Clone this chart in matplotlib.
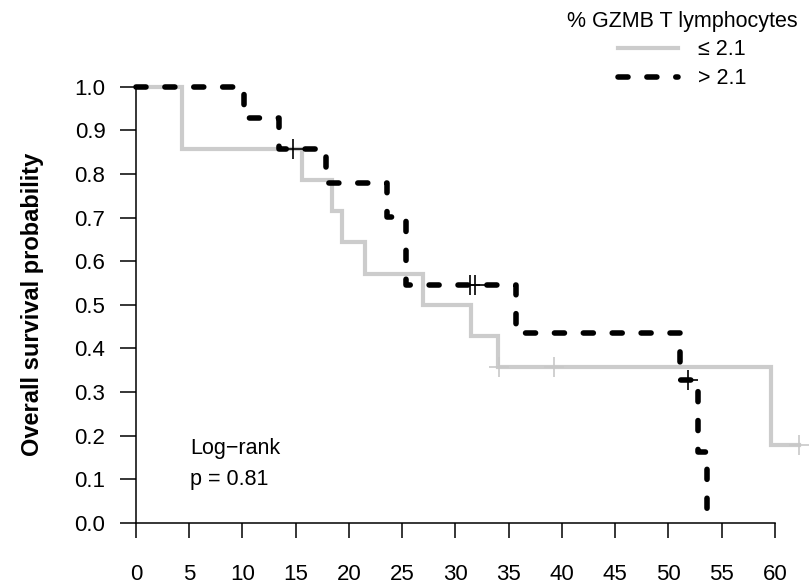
import matplotlib
matplotlib.use('Agg')
import matplotlib.pyplot as plt
from matplotlib.lines import Line2D

plt.rcParams['font.family'] = ['Liberation Sans', 'DejaVu Sans']

# survival steps (time in months, KM estimate)
low_times = [0, 4.3, 15.6, 18.4, 19.3, 21.5, 27.0, 31.5, 34.0, 59.6, 62.3]
low_surv = [1.0, 0.857, 0.786, 0.714, 0.643, 0.571, 0.500, 0.429, 0.357, 0.179, 0.179]
low_cens_t = [34.05, 39.3, 62.3]
low_cens_s = [0.357, 0.357, 0.179]

high_times = [0, 10.1, 13.4, 17.8, 23.6, 25.4, 35.7, 51.1, 52.8, 53.6]
high_surv = [1.0, 0.929, 0.857, 0.779, 0.701, 0.545, 0.436, 0.327, 0.163, 0.0]
high_cens_t = [14.7, 31.4, 31.8, 51.8]
high_cens_s = [0.857, 0.545, 0.545, 0.327]

x_ticks = list(range(0, 61, 5))
y_ticks = [i / 10 for i in range(11)]
legend_title = '% GZMB T lymphocytes'
legend_labels = ['\u2264 2.1', '> 2.1']
low_color = '#cccccc'
high_color = 'black'
dash = (0, (1.8, 3.4))

fig = plt.figure(figsize=(8.1, 5.87), dpi=100)
ax = fig.add_axes([0.1679, 0.1090, 0.8321, 0.7433])

ax.step(low_times, low_surv, where='post', color=low_color, lw=3.0,
        solid_joinstyle='miter', clip_on=False, zorder=2)
ax.plot(low_cens_t, low_cens_s, ls='none', marker='+', ms=14, mew=1.2,
        color='#c8c8c8', clip_on=False, zorder=2)

ax.step(high_times, high_surv, where='post', color=high_color, lw=4.0,
        linestyle=dash, dash_capstyle='round', clip_on=False, zorder=3)
ax.plot(high_cens_t, high_cens_s, ls='none', marker='+', ms=14, mew=1.2,
        color='black', clip_on=False, zorder=4)

ax.set_xlim(0, 63.3)
ax.set_ylim(0, 1)
ax.set_xticks(x_ticks)
ax.set_yticks(y_ticks)
ax.set_yticklabels([f'{v:.1f}' for v in y_ticks])
for s in ['top', 'right']:
    ax.spines[s].set_visible(False)
ax.spines['left'].set_bounds(0, 1)
ax.spines['bottom'].set_bounds(0, 60)
ax.spines['left'].set_linewidth(1.1)
ax.spines['bottom'].set_linewidth(1.1)
ax.tick_params(axis='y', length=11.5, width=1.1, pad=10.5, labelsize=16)
ax.tick_params(axis='x', length=11, width=1.1, pad=18.5, labelsize=16)

ax.set_ylabel('Overall survival probability', fontsize=17, fontweight='bold')
ax.yaxis.set_label_coords(-0.136, 0.5)

ax.text(5.1, 0.17, 'Log\u2212rank', fontsize=15.5, ha='left', va='center')
ax.text(5.1, 0.099, 'p = 0.81', fontsize=15.5, ha='left', va='center')

handles = [Line2D([], [], color=low_color, lw=3.0),
           Line2D([], [], color=high_color, lw=4.0, linestyle=dash,
                  dash_capstyle='round')]
leg = ax.legend(handles, legend_labels, title=legend_title, fontsize=15.5,
                title_fontsize=15.5, frameon=False, loc='upper right',
                bbox_to_anchor=(1.007, 1.013), bbox_transform=fig.transFigure,
                handlelength=2.8, handletextpad=0.95, labelspacing=0.36,
                borderpad=0.35)

fig.savefig('out.png', dpi=100)
